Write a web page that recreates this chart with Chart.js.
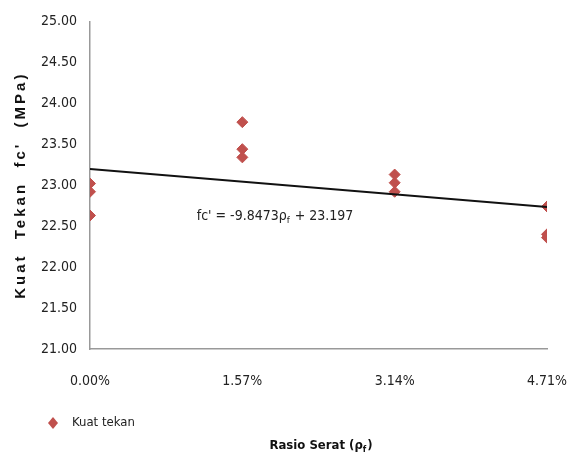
<!DOCTYPE html>
<html>
<head>
<meta charset="utf-8">
<script src="https://cdn.jsdelivr.net/npm/chart.js@4.4.1/dist/chart.umd.min.js"></script>
<style>
  html, body { margin: 0; padding: 0; background: #fff; }
  #wrap { width: 576px; height: 457px; }
</style>
</head>
<body>
<div id="wrap"><canvas id="myChart" width="576" height="457"></canvas></div>
<script>
// rasio serat (fraction), shown as percent on the x axis
const xTicks = [0, 0.0157, 0.0314, 0.0471];

// kuat tekan per benda uji (MPa)
const rasio = [0, 0, 0, 0.0157, 0.0157, 0.0157, 0.0314, 0.0314, 0.0314, 0.0471, 0.0471, 0.0471];
const kuatTekan = [23.02, 22.92, 22.63, 23.77, 23.44, 23.34, 23.13, 23.03, 22.92, 22.74, 22.40, 22.36];

// linear trendline end points
const trendX = [0, 0.0471];
const trendY = [23.197, 22.733];

const yTicks = [21, 21.5, 22, 22.5, 23, 23.5, 24, 24.5, 25];

const narrow = "'Liberation Sans Narrow', 'DejaVu Sans Condensed', sans-serif";
const red = '#c0504d';

// writes text parts, small ones as subscript, returns the end x
function subText(ctx, parts, x, y, size, bold) {
    const w = bold ? 'bold ' : '';
    for (const p of parts) {
        ctx.font = w + (p.sub ? size * 0.68 : size) + 'px ' + narrow;
        ctx.fillText(p.t, x, y + (p.sub ? size * 0.3 : 0));
        x += ctx.measureText(p.t).width + (p.sub ? 1 : 0);
    }
    return x;
}

function partsWidth(ctx, parts, size, bold) {
    const w = bold ? 'bold ' : '';
    let total = 0;
    for (const p of parts) {
        ctx.font = w + (p.sub ? size * 0.68 : size) + 'px ' + narrow;
        total += ctx.measureText(p.t).width + (p.sub ? 1 : 0);
    }
    return total;
}

// draws the axis titles, the equation text and the legend
const extras = {
    id: 'extras',
    afterDraw(chart) {
        const ctx = chart.ctx;
        const x = chart.scales.x;
        const y = chart.scales.y;
        ctx.save();
        ctx.fillStyle = '#222';
        ctx.textBaseline = 'middle';
        ctx.textAlign = 'left';

        // equation label
        subText(ctx, [{ t: "fc' = -9.8473\u03C1" }, { t: 'f', sub: true }, { t: ' + 23.197' }],
            x.getPixelForValue(0.011), y.getPixelForValue(22.62), 14, false);

        // x axis title
        const xt = [{ t: 'Rasio Serat (\u03C1' }, { t: 'f', sub: true }, { t: ')' }];
        const xw = partsWidth(ctx, xt, 13, true);
        ctx.fillStyle = '#111';
        subText(ctx, xt, 321 - xw / 2, 446, 13, true);

        // y axis title, spaced out like the original
        ctx.save();
        ctx.translate(21, (chart.chartArea.top + chart.chartArea.bottom) / 2);
        ctx.rotate(-Math.PI / 2);
        ctx.textAlign = 'center';
        ctx.font = 'bold 15px Liberation Sans, sans-serif';
        ctx.letterSpacing = '3px';
        ctx.fillText("Kuat  Tekan  fc'  (MPa)", 0, 0);
        ctx.restore();

        // legend
        const lx = 53, ly = 423;
        ctx.fillStyle = red;
        ctx.beginPath();
        ctx.moveTo(lx, ly - 6);
        ctx.lineTo(lx + 5, ly);
        ctx.lineTo(lx, ly + 6);
        ctx.lineTo(lx - 5, ly);
        ctx.closePath();
        ctx.fill();
        ctx.fillStyle = '#222';
        ctx.font = '13px ' + narrow;
        ctx.fillText('Kuat tekan', 72, ly);
        ctx.restore();
    }
};

const ctx = document.getElementById('myChart').getContext('2d');
new Chart(ctx, {
    type: 'scatter',
    data: {
        datasets: [
            {
                label: 'Kuat tekan',
                data: rasio.map((r, i) => ({ x: r, y: kuatTekan[i] })),
                backgroundColor: red,
                borderColor: red,
                pointStyle: 'rectRot',
                pointRadius: 5.5,
                order: 2
            },
            {
                label: 'Trendline',
                type: 'line',
                data: trendX.map((r, i) => ({ x: r, y: trendY[i] })),
                borderColor: '#111',
                borderWidth: 2,
                pointRadius: 0,
                order: 1
            }
        ]
    },
    options: {
        responsive: false,
        animation: false,
        layout: { padding: { top: 20, right: 29, bottom: 0, left: 0 } },
        plugins: {
            legend: { display: false },
            tooltip: { enabled: false }
        },
        scales: {
            x: {
                type: 'linear',
                min: 0,
                max: 0.0471,
                afterBuildTicks: axis => { axis.ticks = xTicks.map(v => ({ value: v })); },
                afterFit: axis => {
                    axis.height = 108;
                    axis.paddingLeft = 0;
                    axis.paddingRight = 0;
                },
                grid: { display: false, drawTicks: false },
                border: { color: '#999', width: 1.5 },
                ticks: {
                    padding: 24,
                    maxRotation: 0,
                    color: '#222',
                    font: { family: narrow, size: 14 },
                    callback: v => (v * 100).toFixed(2) + '%'
                }
            },
            y: {
                min: 21,
                max: 25,
                afterBuildTicks: axis => { axis.ticks = yTicks.map(v => ({ value: v })); },
                afterFit: axis => { axis.width = 90; },
                grid: { display: false, drawTicks: false },
                border: { color: '#999', width: 1.5 },
                ticks: {
                    padding: 13,
                    color: '#222',
                    font: { family: narrow, size: 14 },
                    callback: v => v.toFixed(2)
                }
            }
        }
    },
    plugins: [extras]
});
</script>
</body>
</html>
